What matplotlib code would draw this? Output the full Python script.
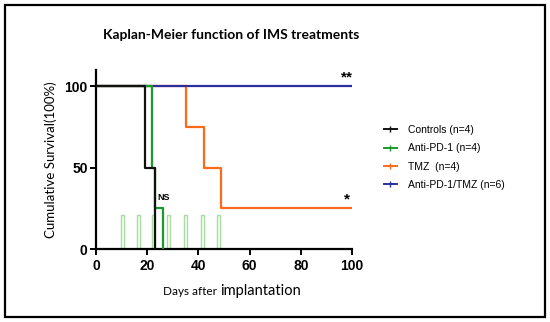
import matplotlib.pyplot as plt
from matplotlib.lines import Line2D
from matplotlib.patches import Rectangle

# survival step data (days, percent)
ctrl_x = [0, 19, 19, 23, 23]
ctrl_y = [100, 100, 50, 50, 0]
pd1_x = [0, 22, 22, 23, 23, 26, 26]
pd1_y = [100, 100, 50, 50, 25, 25, 0]
tmz_x = [0, 35, 35, 42, 42, 49, 49, 100]
tmz_y = [100, 100, 75, 75, 50, 50, 25, 25]
combo_x = [0, 100]
combo_y = [100, 100]

# treatment days (light green bars)
treat_days = [10.5, 16.5, 22.5, 28.5, 35, 41.5, 48]
treat_h = 21

labels = ["Controls (n=4)", "Anti-PD-1 (n=4)", "TMZ  (n=4)", "Anti-PD-1/TMZ (n=6)"]
colors = ["#111111", "#1a9a2a", "#ff6a1a", "#2b2f9e"]

plt.rcParams['font.family'] = ['Liberation Sans', 'DejaVu Sans']

fig = plt.figure(figsize=(5.5, 3.22), dpi=100)
ax = fig.add_axes([0.1745, 0.2267, 0.4655, 0.556])

for d in treat_days:
    ax.add_patch(Rectangle((d - 0.6, 0), 1.2, treat_h, fill=False,
                           edgecolor="#a8dca0", linewidth=1.0, zorder=1))

ax.plot(tmz_x, tmz_y, color=colors[2], lw=1.6, zorder=2)
ax.plot(combo_x, combo_y, color=colors[3], lw=1.6, zorder=3)
ax.plot(pd1_x, pd1_y, color=colors[1], lw=1.6, zorder=4)
ax.plot(ctrl_x, ctrl_y, color=colors[0], lw=1.6, zorder=5)

ax.text(98, 101, "**", ha="center", va="bottom", fontsize=11, fontweight="bold")
ax.text(98, 26, "*", ha="center", va="bottom", fontsize=11, fontweight="bold")
ax.text(26.5, 29, "NS", ha="center", va="bottom", fontsize=6.5, fontweight="bold")

ax.set_xlim(0, 100)
ax.set_ylim(0, 110)
ax.set_xticks([0, 20, 40, 60, 80, 100])
ax.set_yticks([0, 50, 100])
for s in ["top", "right"]:
    ax.spines[s].set_visible(False)
for s in ["left", "bottom"]:
    ax.spines[s].set_linewidth(1.6)
ax.tick_params(width=1.4, length=4, labelsize=10, pad=2)
ax.tick_params(axis="x", pad=3.5)
for lab in ax.get_xticklabels() + ax.get_yticklabels():
    lab.set_fontweight("bold")
for sp in ax.spines.values():
    sp.set_clip_on(False)

ax.set_ylabel("Cumulative Survival(100%)", family=["Lato", "DejaVu Sans"], fontsize=9.5, labelpad=5)

fig.text(0.40, 0.085, "Days after ", family=["Lato", "DejaVu Sans"], fontsize=8.5, ha="right", va="baseline")
fig.text(0.40, 0.085, "implantation", family=["Lato", "DejaVu Sans"], fontsize=10.5, ha="left", va="baseline")

fig.text(0.42, 0.89, "Kaplan-Meier function of IMS treatments", family=["Lato", "DejaVu Sans"],
         fontsize=10, fontweight="bold", ha="center", va="center")

handles = [Line2D([0], [0], color=c, lw=1.4, marker="|", markersize=4, markeredgewidth=1) for c in colors]
fig.legend(handles, labels, loc="upper left", bbox_to_anchor=(0.69, 0.625), frameon=False,
           fontsize=7.5, handlelength=1.3, handletextpad=1.0, labelspacing=0.8, borderaxespad=0)

fig.add_artist(Rectangle((0.009, 0.015), 0.982, 0.968, transform=fig.transFigure,
                         fill=False, edgecolor="black", linewidth=1.6))

fig.savefig("out.png", dpi=100)
